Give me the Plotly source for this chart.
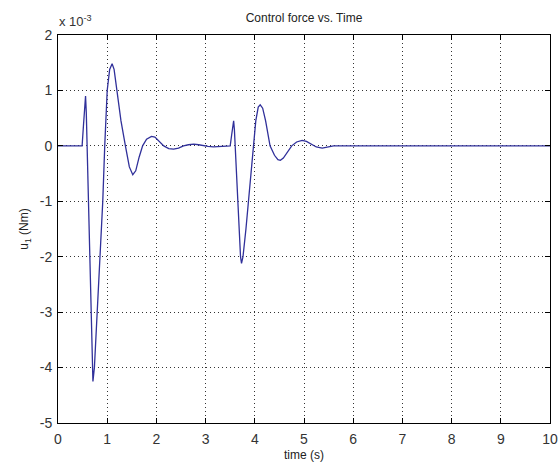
import plotly.graph_objects as go

# time (s) and control force u1 (in units of 1e-3 Nm)
time_s = [0, 0.49, 0.52, 0.55, 0.56, 0.575, 0.59, 0.62, 0.64, 0.68, 0.70, 0.71,
          0.74, 0.80, 0.85, 0.91, 0.95, 1.00, 1.05, 1.10, 1.14, 1.20, 1.28, 1.37,
          1.45, 1.52, 1.58, 1.65, 1.72, 1.80, 1.90, 1.97, 2.05, 2.15, 2.25, 2.35,
          2.45, 2.55, 2.65, 2.76, 2.86, 2.96, 3.05, 3.16, 3.30, 3.50, 3.53, 3.57,
          3.585, 3.60, 3.65, 3.71, 3.73, 3.76, 3.82, 3.87, 3.96, 4.02, 4.07, 4.11,
          4.16, 4.22, 4.31, 4.40, 4.47, 4.52, 4.58, 4.66, 4.75, 4.85, 4.96, 5.05,
          5.15, 5.25, 5.37, 5.50, 5.60, 10]
u1_e3 = [0, 0, 0.4, 0.85, 0.90, 0.6, 0, -0.8, -2.0, -3.0, -4.0, -4.25,
         -4.0, -3.0, -2.0, -1.0, 0, 1.0, 1.38, 1.48, 1.38, 1.0, 0.45, 0,
         -0.38, -0.52, -0.45, -0.2, 0, 0.12, 0.17, 0.16, 0.09, 0, -0.05, -0.06,
         -0.04, 0, 0.02, 0.03, 0.02, 0, -0.01, -0.02, -0.01, 0, 0.2, 0.45,
         0.3, 0, -1.0, -2.0, -2.12, -2.0, -1.5, -1.0, 0, 0.45, 0.70, 0.74,
         0.68, 0.45, 0, -0.17, -0.25, -0.26, -0.22, -0.12, 0, 0.07, 0.10, 0.08,
         0.03, -0.02, -0.04, -0.02, 0, 0]

x_ticks = list(range(0, 11))
y_ticks = [-5, -4, -3, -2, -1, 0, 1, 2]

W, H = 560, 467
L, R, T, B = 57.5, 10, 35, 43.5
FONT = "Liberation Sans, Arial, sans-serif"

fig = go.Figure()
fig.add_trace(go.Scatter(x=time_s, y=u1_e3, mode="lines",
                         line=dict(color="#30309a", width=1.3),
                         showlegend=False))

axis_common = dict(
    showline=True, linecolor="black", linewidth=1, mirror="allticks",
    ticks="inside", ticklen=5, tickcolor="black", tickwidth=1,
    showgrid=True, gridcolor="#333333", gridwidth=1, griddash="1px,3px",
    zeroline=False, automargin=False,
    tickfont=dict(family=FONT, size=14, color="#333333"),
)

fig.update_xaxes(range=[0, 10], tickvals=x_ticks, ticktext=[str(v) for v in x_ticks],
                 ticklabelstandoff=3,
                 title=dict(text="time (s)", standoff=4,
                            font=dict(family=FONT, size=12, color="#222222")),
                 **axis_common)
fig.update_yaxes(range=[-5, 2], tickvals=y_ticks, ticktext=[str(v) for v in y_ticks],
                 ticklabelstandoff=2,
                 title=dict(text="u<sub>1</sub> (Nm)", standoff=8,
                            font=dict(family=FONT, size=12, color="#222222")),
                 **axis_common)

fig.update_layout(
    width=W, height=H,
    margin=dict(l=L, r=R, t=T, b=B, pad=0),
    paper_bgcolor="white", plot_bgcolor="white",
    title=dict(text="Control force vs. Time", x=0.5, xref="paper",
               y=1 - 18 / H, yref="container", xanchor="center", yanchor="middle",
               font=dict(family=FONT, size=12, color="#222222")),
    annotations=[dict(text="x 10<sup>-3</sup>", xref="paper", yref="paper",
                      x=0, y=1, xanchor="left", yanchor="bottom", yshift=4, xshift=-1,
                      showarrow=False,
                      font=dict(family=FONT, size=13, color="#333333"))],
)

fig.write_html("out.html")
